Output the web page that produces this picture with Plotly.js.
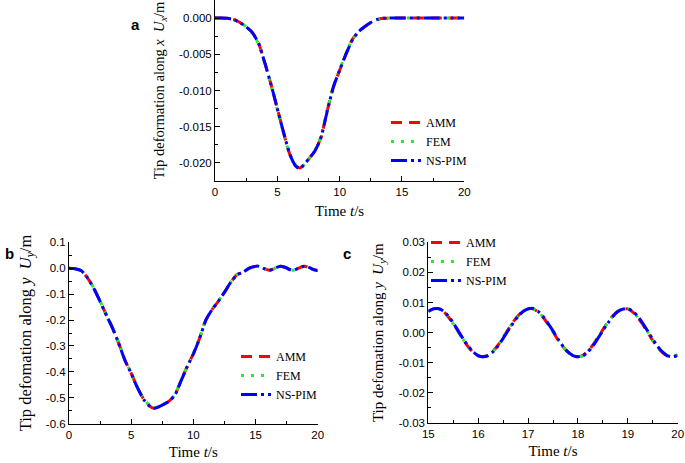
<!DOCTYPE html>
<html>
<head>
<meta charset="utf-8">
<script src="https://cdn.plot.ly/plotly-3.0.1.min.js"></script>
<style>html,body{margin:0;padding:0;background:#fff;}#chart{width:685px;height:463px;}</style>
</head>
<body>
<div id="chart"></div>
<script>
// ---- Panel a: tip deformation along x, Ux (m) ----
const tA = [0, 0.5, 1, 1.5, 2, 2.5, 3, 3.5, 4, 4.5, 5, 5.5, 6, 6.5, 6.8, 7, 7.5, 8, 8.5, 9, 9.5, 10, 10.5, 11, 11.5, 12, 12.5, 13, 13.5, 14, 15, 16, 17, 18, 19, 20];
const uxAMM = [0, 0, -0.00003, -0.0002, -0.0006, -0.0012, -0.0020, -0.0035, -0.0062, -0.0092, -0.0125, -0.0158, -0.0188, -0.0204, -0.0207, -0.0205, -0.0195, -0.0184, -0.0165, -0.0128, -0.0095, -0.0072, -0.0050, -0.0030, -0.0019, -0.0012, -0.0006, -0.0002, -0.00003, 0, 0, 0, 0, 0, 0, 0];
const uxFEM = [0, 0, -0.00003, -0.0002, -0.0006, -0.0012, -0.0021, -0.0036, -0.0063, -0.0093, -0.0126, -0.0159, -0.0189, -0.0204, -0.0207, -0.0205, -0.0195, -0.0183, -0.0164, -0.0127, -0.0094, -0.0071, -0.0049, -0.0030, -0.0019, -0.0011, -0.0006, -0.0002, -0.00003, 0, 0, 0, 0, 0, 0, 0];
const uxNSPIM = [0, 0, -0.00003, -0.0002, -0.0006, -0.0012, -0.0020, -0.0035, -0.0062, -0.0092, -0.0125, -0.0158, -0.0188, -0.0205, -0.0208, -0.0205, -0.0195, -0.0184, -0.0165, -0.0129, -0.0095, -0.0072, -0.0050, -0.0031, -0.0019, -0.0012, -0.0006, -0.0002, -0.00003, 0, 0, 0, 0, 0, 0, 0];

// ---- Panel b: tip deformation along y, Uy (m), 0-20 s ----
const tB = [0, 0.5, 1, 1.5, 2, 2.5, 3, 3.5, 4, 4.5, 5, 5.5, 6, 6.5, 6.8, 7, 7.5, 8, 8.5, 9, 9.5, 10, 10.5, 11, 11.5, 12, 12.5, 13, 13.5, 14, 14.5, 15, 15.2, 15.5, 15.7, 16.1, 16.5, 16.7, 17.05, 17.5, 17.7, 18.0, 18.5, 18.7, 18.95, 19.4, 19.6, 19.9, 20];
const uyAMM = [0, -0.002, -0.010, -0.038, -0.078, -0.128, -0.180, -0.230, -0.290, -0.355, -0.405, -0.460, -0.505, -0.532, -0.540, -0.538, -0.528, -0.515, -0.490, -0.435, -0.380, -0.330, -0.270, -0.200, -0.160, -0.128, -0.093, -0.055, -0.025, -0.015, 0.000, 0.007, 0.008, 0.003, -0.002, -0.008, -0.002, 0.003, 0.008, 0.001, -0.004, -0.008, 0.001, 0.005, 0.008, 0.001, -0.004, -0.008, -0.0075];
const uyFEM = [0, -0.002, -0.010, -0.037, -0.077, -0.127, -0.179, -0.229, -0.289, -0.354, -0.404, -0.459, -0.504, -0.531, -0.539, -0.537, -0.527, -0.514, -0.489, -0.434, -0.379, -0.329, -0.269, -0.199, -0.159, -0.127, -0.092, -0.054, -0.025, -0.015, 0.000, 0.007, 0.008, 0.003, -0.002, -0.008, -0.002, 0.003, 0.008, 0.001, -0.004, -0.008, 0.001, 0.005, 0.008, 0.001, -0.004, -0.008, -0.0075];
const uyNSPIM = [0, -0.002, -0.010, -0.038, -0.078, -0.128, -0.181, -0.231, -0.291, -0.356, -0.406, -0.461, -0.506, -0.533, -0.541, -0.539, -0.528, -0.515, -0.491, -0.436, -0.381, -0.331, -0.271, -0.201, -0.160, -0.128, -0.093, -0.055, -0.026, -0.015, 0.000, 0.007, 0.008, 0.003, -0.002, -0.008, -0.002, 0.003, 0.008, 0.001, -0.004, -0.008, 0.001, 0.005, 0.008, 0.001, -0.004, -0.008, -0.0075];

// ---- Panel c: tip deformation along y, Uy (m), 15-20 s ----
const tC = [15.0, 15.1, 15.2, 15.3, 15.4, 15.5, 15.6, 15.7, 15.8, 15.9, 16.0, 16.1, 16.2, 16.3, 16.4, 16.5, 16.6, 16.7, 16.8, 16.9, 17.0, 17.1, 17.2, 17.3, 17.4, 17.5, 17.6, 17.7, 17.8, 17.9, 18.0, 18.1, 18.2, 18.3, 18.4, 18.5, 18.6, 18.7, 18.8, 18.9, 19.0, 19.1, 19.2, 19.3, 19.4, 19.5, 19.6, 19.7, 19.8, 19.9, 20.0];
const ucAMM = [0.0071, 0.0079, 0.0080, 0.0071, 0.0053, 0.0030, 0.0004, -0.0023, -0.0047, -0.0065, -0.0077, -0.0080, -0.0075, -0.0061, -0.0041, -0.0016, 0.0010, 0.0035, 0.0056, 0.0071, 0.0079, 0.0079, 0.0069, 0.0051, 0.0028, 0.0003, -0.0024, -0.0047, -0.0065, -0.0077, -0.0080, -0.0075, -0.0061, -0.0041, -0.0016, 0.0010, 0.0035, 0.0056, 0.0071, 0.0079, 0.0079, 0.0068, 0.0050, 0.0027, 0.0001, -0.0026, -0.0049, -0.0067, -0.0078, -0.0080, -0.0074];
const ucFEM = [0.0072, 0.0080, 0.0079, 0.0070, 0.0052, 0.0029, 0.0003, -0.0023, -0.0046, -0.0064, -0.0077, -0.0080, -0.0076, -0.0062, -0.0042, -0.0017, 0.0009, 0.0034, 0.0055, 0.0071, 0.0079, 0.0079, 0.0070, 0.0052, 0.0029, 0.0004, -0.0022, -0.0046, -0.0064, -0.0076, -0.0080, -0.0076, -0.0062, -0.0042, -0.0017, 0.0009, 0.0034, 0.0055, 0.0070, 0.0079, 0.0079, 0.0069, 0.0051, 0.0028, 0.0002, -0.0025, -0.0048, -0.0066, -0.0078, -0.0080, -0.0075];
const ucNSPIM = [0.0070, 0.0079, 0.0080, 0.0072, 0.0055, 0.0032, 0.0006, -0.0021, -0.0045, -0.0064, -0.0076, -0.0080, -0.0076, -0.0063, -0.0044, -0.0019, 0.0007, 0.0032, 0.0054, 0.0070, 0.0079, 0.0080, 0.0071, 0.0054, 0.0031, 0.0006, -0.0021, -0.0045, -0.0064, -0.0076, -0.0080, -0.0077, -0.0064, -0.0044, -0.0019, 0.0007, 0.0032, 0.0054, 0.0070, 0.0078, 0.0080, 0.0071, 0.0054, 0.0031, 0.0005, -0.0022, -0.0046, -0.0065, -0.0077, -0.0080, -0.0076];

// ---- tick labels ----
const yTickValsA = [0, -0.005, -0.010, -0.015, -0.020];
const yTickTextA = ["0.000", "-0.005", "-0.010", "-0.015", "-0.020"];
const yTickValsB = [0.1, 0.0, -0.1, -0.2, -0.3, -0.4, -0.5, -0.6];
const yTickTextB = ["0.1", "0.0", "-0.1", "-0.2", "-0.3", "-0.4", "-0.5", "-0.6"];
const yTickValsC = [0.03, 0.02, 0.01, 0.0, -0.01, -0.02, -0.03];
const yTickTextC = ["0.03", "0.02", "0.01", "0.00", "-0.01", "-0.02", "-0.03"];
const seriesNames = ["AMM", "FEM", "NS-PIM"];

const W = 685, H = 463;
const colors = ["#ff0000", "#22ee22", "#0000ff"];
const dashes = ["11px,7px", "3px,7px", "16px,4px,3px,4px,3px,4px"];
const serif = "Liberation Serif, Times New Roman, serif";
const sans = "Liberation Sans, Arial, sans-serif";

function mk(x, y, i, xa, ya, leg) {
  return {x: x, y: y, type: "scatter", mode: "lines", name: seriesNames[i],
    xaxis: xa, yaxis: ya, legend: leg, showlegend: true,
    line: {color: colors[i], width: 3, dash: dashes[i], shape: "spline", smoothing: 0.6}};
}
const traces = [
  mk(tA, uxAMM, 0, "x", "y", "legend"), mk(tA, uxFEM, 1, "x", "y", "legend"), mk(tA, uxNSPIM, 2, "x", "y", "legend"),
  mk(tB, uyAMM, 0, "x2", "y2", "legend2"), mk(tB, uyFEM, 1, "x2", "y2", "legend2"), mk(tB, uyNSPIM, 2, "x2", "y2", "legend2"),
  mk(tC, ucAMM, 0, "x3", "y3", "legend3"), mk(tC, ucFEM, 1, "x3", "y3", "legend3"), mk(tC, ucNSPIM, 2, "x3", "y3", "legend3")
];

function px(xp) { return xp / W; }
function py(yp) { return 1 - yp / H; }

const axBase = {showline: true, linecolor: "#000", linewidth: 1, ticks: "inside", ticklen: 5, tickwidth: 1,
  tickcolor: "#000", showgrid: false, zeroline: false, mirror: false,
  tickfont: {family: sans, size: 11.5, color: "#000"}};

function xax(dom, range, dtick, minorD, anchor, so) {
  return Object.assign({}, axBase, {domain: dom, range: range, anchor: anchor, tickmode: "linear", tick0: range[0], dtick: dtick,
    minor: {ticks: "inside", ticklen: 3, dtick: minorD, tick0: range[0], tickcolor: "#000"},
    title: {text: "Time <i>t</i>/s", font: {family: serif, size: 15, color: "#000"}, standoff: so}});
}
function yax(dom, range, vals, text, minorD, anchor, title, tsize, so) {
  return Object.assign({}, axBase, {domain: dom, range: range, anchor: anchor, tickmode: "array", tickvals: vals, ticktext: text,
    minor: {ticks: "inside", ticklen: 3, dtick: minorD, tick0: 0, tickcolor: "#000"},
    title: {text: title, font: {family: serif, size: tsize, color: "#000"}, standoff: so}});
}

const legFont = {family: serif, size: 12, color: "#000"};
const layout = {
  width: W, height: H, margin: {l: 0, r: 0, t: 0, b: 0}, paper_bgcolor: "#fff", plot_bgcolor: "#fff",
  xaxis: xax([px(215), px(464.3)], [0, 20], 5, 2.5, "y", 8),
  yaxis: yax([py(181), 1], [-0.0225, 0.0025], yTickValsA, yTickTextA, 0.0025, "x",
    "Tip deformation along <i>x</i>  <i>U</i><sub><i>x</i></sub>/m", 14.5, 11),
  xaxis2: xax([px(69), px(317.7)], [0, 20], 5, 2.5, "y2", 6),
  yaxis2: yax([py(423.7), py(242.3)], [-0.6, 0.1], yTickValsB, yTickTextB, 0.05, "x2",
    "Tip defomation along <i>y</i>  <i>U</i><sub><i>y</i></sub>/m", 16.5, 10),
  xaxis3: xax([px(428.3), px(677.7)], [15, 20], 1, 0.5, "y3", 6),
  yaxis3: yax([py(423), py(242.3)], [-0.03, 0.03], yTickValsC, yTickTextC, 0.005, "x3",
    "Tip defomation along <i>y</i>  <i>U</i><sub><i>y</i></sub>/m", 15, 11),
  legend: {x: px(386), y: py(108), xanchor: "left", yanchor: "top", bgcolor: "rgba(0,0,0,0)", font: legFont, tracegroupgap: 0},
  legend2: {x: px(236), y: py(342), xanchor: "left", yanchor: "top", bgcolor: "rgba(0,0,0,0)", font: legFont, tracegroupgap: 0},
  legend3: {x: px(426), y: py(228), xanchor: "left", yanchor: "top", bgcolor: "rgba(0,0,0,0)", font: legFont, tracegroupgap: 0},
  annotations: [
    {text: "<b>a</b>", x: px(135), y: py(25), xref: "paper", yref: "paper", xanchor: "center", yanchor: "middle", showarrow: false, font: {family: sans, size: 15, color: "#000"}},
    {text: "<b>b</b>", x: px(9), y: py(253), xref: "paper", yref: "paper", xanchor: "center", yanchor: "middle", showarrow: false, font: {family: sans, size: 15, color: "#000"}},
    {text: "<b>c</b>", x: px(347), y: py(253), xref: "paper", yref: "paper", xanchor: "center", yanchor: "middle", showarrow: false, font: {family: sans, size: 15, color: "#000"}}
  ]
};
Plotly.newPlot("chart", traces, layout, {staticPlot: true, displayModeBar: false});
</script>
</body>
</html>
